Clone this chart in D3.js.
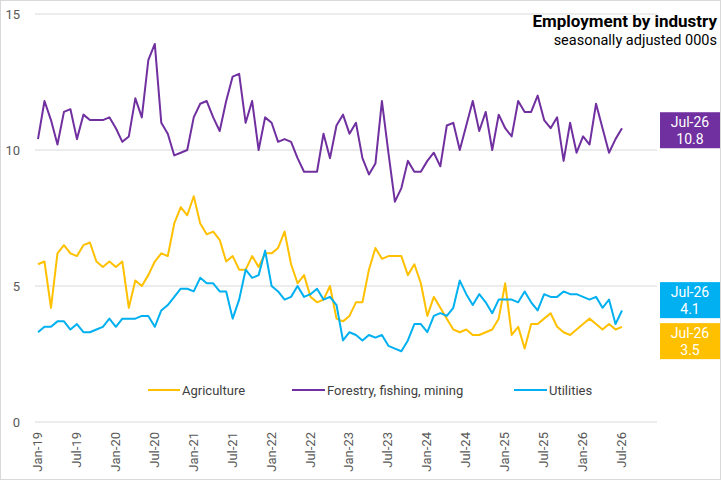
<!DOCTYPE html>
<html>
<head>
<meta charset="utf-8">
<script src="https://cdn.jsdelivr.net/npm/d3@7"></script>
<style>
  body { margin: 0; background: #fff; }
  svg { font-family: Roboto, "Noto Sans", sans-serif; }
</style>
</head>
<body>
<div id="chart"></div>
<script>
(function (d3) {
  'use strict';

  // monthly, Jan-19 .. Jul-26 (000s, seasonally adjusted)
  const agriculture = [
    5.8, 5.9, 4.2, 6.2, 6.5, 6.2, 6.1, 6.5, 6.6, 5.9, 5.7, 5.9,
    5.7, 5.9, 4.2, 5.2, 5.0, 5.4, 5.9, 6.2, 6.1, 7.3, 7.9, 7.6,
    8.3, 7.3, 6.9, 7.0, 6.7, 5.9, 6.1, 5.6, 5.6, 6.1, 5.7, 6.2,
    6.2, 6.4, 7.0, 5.8, 5.1, 5.4, 4.6, 4.4, 4.5, 5.0, 3.8, 3.7,
    3.9, 4.4, 4.4, 5.6, 6.4, 6.0, 6.1, 6.1, 6.1, 5.4, 5.8, 5.1,
    3.9, 4.6, 4.2, 3.8, 3.4, 3.3, 3.4, 3.2, 3.2, 3.3, 3.4, 3.8,
    5.1, 3.2, 3.5, 2.7, 3.6, 3.6, 3.8, 4.0, 3.5, 3.3, 3.2, 3.4,
    3.6, 3.8, 3.6, 3.4, 3.6, 3.4, 3.5
  ];
  const forestry = [
    10.4, 11.8, 11.1, 10.2, 11.4, 11.5, 10.4, 11.3, 11.1, 11.1, 11.1, 11.2,
    10.8, 10.3, 10.5, 11.9, 11.2, 13.3, 13.9, 11.0, 10.6, 9.8, 9.9, 10.0,
    11.2, 11.7, 11.8, 11.2, 10.7, 11.8, 12.7, 12.8, 11.0, 11.8, 10.0, 11.2,
    11.0, 10.3, 10.4, 10.3, 9.7, 9.2, 9.2, 9.2, 10.6, 9.7, 10.9, 11.3,
    10.6, 11.0, 9.7, 9.1, 9.5, 11.8, 9.9, 8.1, 8.6, 9.6, 9.2, 9.2,
    9.6, 9.9, 9.4, 10.9, 11.0, 10.0, 10.9, 11.8, 10.7, 11.4, 10.0, 11.3,
    10.8, 10.5, 11.8, 11.4, 11.4, 12.0, 11.1, 10.8, 11.2, 9.6, 11.0, 9.9,
    10.5, 10.2, 11.7, 10.8, 9.9, 10.4, 10.8
  ];
  const utilities = [
    3.3, 3.5, 3.5, 3.7, 3.7, 3.4, 3.6, 3.3, 3.3, 3.4, 3.5, 3.8,
    3.5, 3.8, 3.8, 3.8, 3.9, 3.9, 3.5, 4.1, 4.3, 4.6, 4.9, 4.9,
    4.8, 5.3, 5.1, 5.1, 4.8, 4.8, 3.8, 4.5, 5.6, 5.3, 5.4, 6.3,
    5.0, 4.8, 4.5, 4.6, 5.0, 4.6, 4.7, 4.9, 4.5, 4.6, 4.3, 3.0,
    3.3, 3.2, 3.0, 3.2, 3.1, 3.2, 2.8, 2.7, 2.6, 3.0, 3.6, 3.6,
    3.3, 3.9, 4.0, 3.9, 4.2, 5.2, 4.7, 4.3, 4.7, 4.4, 4.0, 4.5,
    4.5, 4.5, 4.4, 4.8, 4.4, 4.1, 4.7, 4.6, 4.6, 4.8, 4.7, 4.7,
    4.6, 4.5, 4.6, 4.2, 4.5, 3.6, 4.1
  ];

  const seriesNames = ['Agriculture', 'Forestry, fishing, mining', 'Utilities'];
  const seriesColors = ['#FFC000', '#7030A0', '#00B0F0'];
  const yTicks = [0, 5, 10, 15];
  const xTickLabels = [
    'Jan-19', 'Jul-19', 'Jan-20', 'Jul-20', 'Jan-21', 'Jul-21', 'Jan-22', 'Jul-22',
    'Jan-23', 'Jul-23', 'Jan-24', 'Jul-24', 'Jan-25', 'Jul-25', 'Jan-26', 'Jul-26'
  ];

  const fmt = d3.timeFormat('%b-%y');
  const months = d3.timeMonth.range(new Date(2019, 0, 1), new Date(2026, 7, 1)).map(fmt);

  const width = 721;
  const height = 480;
  const margin = { top: 14, right: 64, bottom: 58, left: 35 };

  const svg = d3.select('#chart')
    .append('svg')
    .attr('width', width)
    .attr('height', height);

  // outer frame
  svg.append('rect')
    .attr('x', 0.5).attr('y', 0.5)
    .attr('width', width - 1).attr('height', height - 1)
    .attr('fill', '#fff')
    .attr('stroke', '#d9d9d9');

  const xScale = d3.scalePoint()
    .domain(months)
    .range([38, 622]);

  const yScale = d3.scaleLinear()
    .domain([0, 15])
    .range([height - margin.bottom, margin.top]);

  // gridlines
  svg.append('g')
    .selectAll('line')
    .data(yTicks)
    .join('line')
    .attr('x1', margin.left)
    .attr('x2', width - 64)
    .attr('y1', d => yScale(d))
    .attr('y2', d => yScale(d))
    .attr('stroke', '#d9d9d9')
    .attr('stroke-width', 1);

  svg.append('g')
    .selectAll('text')
    .data(yTicks)
    .join('text')
    .attr('x', 20)
    .attr('y', d => yScale(d))
    .attr('dy', '0.35em')
    .attr('text-anchor', 'end')
    .attr('font-size', 13)
    .attr('fill', '#595959')
    .text(d => d);

  // x labels, rotated
  svg.append('g')
    .selectAll('text')
    .data(xTickLabels)
    .join('text')
    .attr('transform', d => `translate(${xScale(d) + 4},${yScale(0) + 10}) rotate(-90)`)
    .attr('text-anchor', 'end')
    .attr('font-size', 13)
    .attr('fill', '#595959')
    .text(d => d);

  const series = [agriculture, forestry, utilities];
  const line = d3.line()
    .x((d, i) => xScale(months[i]))
    .y(d => yScale(d));

  // draw order: forestry, agriculture, utilities on top
  [1, 0, 2].forEach(k => {
    svg.append('path')
      .datum(series[k])
      .attr('fill', 'none')
      .attr('stroke', seriesColors[k])
      .attr('stroke-width', 2)
      .attr('stroke-linejoin', 'round')
      .attr('d', line);
  });

  // legend
  const legendX = [[148, 180], [292, 325], [514, 547]];
  const legend = svg.append('g');
  seriesNames.forEach((name, k) => {
    legend.append('line')
      .attr('x1', legendX[k][0]).attr('x2', legendX[k][1])
      .attr('y1', 390).attr('y2', 390)
      .attr('stroke', seriesColors[k])
      .attr('stroke-width', 2);
    legend.append('text')
      .attr('x', legendX[k][1] + 2)
      .attr('y', 390)
      .attr('dy', '0.35em')
      .attr('font-size', 13)
      .attr('fill', '#404040')
      .text(name);
  });

  // end-value boxes
  const last = months[months.length - 1];
  const boxH = 36;
  const boxes = series.map((s, k) => ({
    k, v: s[s.length - 1], cy: yScale(s[s.length - 1])
  }));
  boxes.sort((a, b) => a.cy - b.cy);
  // push overlapping boxes apart
  for (let pass = 0; pass < 5; pass++) {
    for (let i = 1; i < boxes.length; i++) {
      const gap = boxes[i].cy - boxes[i - 1].cy;
      const need = boxH + 5;
      if (gap < need) {
        const shift = (need - gap) / 2;
        boxes[i - 1].cy -= shift;
        boxes[i].cy += shift;
      }
    }
  }
  boxes.forEach(b => {
    const g = svg.append('g')
      .attr('transform', `translate(660,${b.cy + 2 - boxH / 2})`);
    g.append('rect')
      .attr('width', 60)
      .attr('height', boxH)
      .attr('fill', seriesColors[b.k]);
    g.append('text')
      .attr('x', 30).attr('y', 15)
      .attr('text-anchor', 'middle')
      .attr('font-size', 14)
      .attr('fill', '#fff')
      .text(last);
    g.append('text')
      .attr('x', 30).attr('y', 32)
      .attr('text-anchor', 'middle')
      .attr('font-size', 14)
      .attr('fill', '#fff')
      .text(d3.format('.1f')(b.v));
  });

  // title
  svg.append('text')
    .attr('x', 717).attr('y', 27)
    .attr('text-anchor', 'end')
    .attr('font-size', 17)
    .attr('font-weight', 'bold')
    .attr('fill', '#000')
    .text('Employment by industry');
  svg.append('text')
    .attr('x', 717).attr('y', 45)
    .attr('text-anchor', 'end')
    .attr('font-size', 14.5)
    .attr('fill', '#000')
    .text('seasonally adjusted 000s');

}(d3));
</script>
</body>
</html>
